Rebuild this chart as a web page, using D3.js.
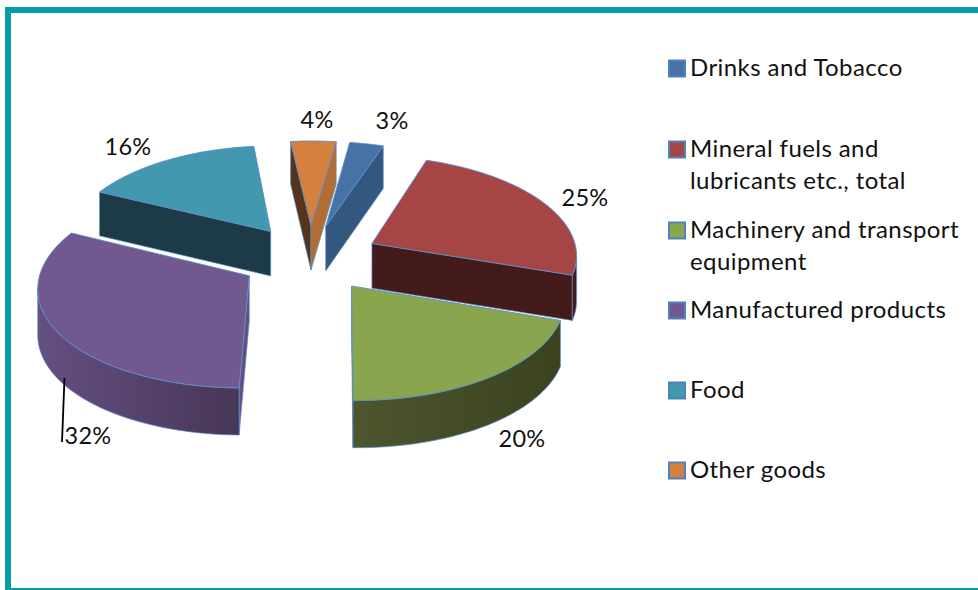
<!DOCTYPE html>
<html><head><meta charset="utf-8">
<script src="https://cdnjs.cloudflare.com/ajax/libs/d3/7.8.5/d3.min.js"></script>
<style>html,body{margin:0;padding:0;background:#fff}svg{display:block}text{font-family:Lato,"Open Sans",sans-serif;fill:#111}</style>
</head><body><svg id="c" width="978" height="590"></svg>
<script>
const categories=["Drinks and Tobacco","Mineral fuels and\nlubricants etc., total","Machinery and transport\nequipment","Manufactured products","Food","Other goods"];
const values=[3,25,20,32,16,4];
const topColors=["#4672A8","#A64644","#89A54E","#71588F","#4198AF","#D6803D"];
const wallStart=["#33587F","#431B1B","#4E5630","#654F81","#1C3B47","#55341A"];
const wallEnd=["#33587F","#431B1B","#3A421E","#453555","#1C3B47","#B26D33"];
const paintOrder=[5,0,4,1,3,2];
const labelAnchors=[[392,129],[585,206],[522,447],[88,444],[128,155],[317,128]];
const legendBaselines=[76,157,238,318,398,478];

const svg=d3.select("#c");
const frame="#039DA9";
svg.append("rect").attr("x",5).attr("y",7).attr("width",1000).attr("height",6).attr("fill",frame);
svg.append("rect").attr("x",5).attr("y",7).attr("width",6).attr("height",590).attr("fill",frame);
svg.append("rect").attr("x",5).attr("y",588).attr("width",1000).attr("height",4).attr("fill",frame);

const defs=svg.append("defs");
const rot=8*Math.PI/180;
const arcs=d3.pie().sort(null).value(d=>d).startAngle(rot).endAngle(2*Math.PI+rot)(values);

const cx=310,cy=258,A=206,B=98.2,py=0.093,px=0.1,explode=0.34,depth=45;
const sx=d3.scaleLinear().domain([0,1]).range([cx,cx+A]);
const sy=d3.scaleLinear().domain([0,1]).range([cy,cy+B]);
function project(a,b){const p=[sx(a/(1-px*b)),sy(b/(1-py*b))];p.h=depth*(1+0.04*b);return p;}
const line=d3.line();

arcs.forEach((d,i)=>{
  const mid=(d.startAngle+d.endAngle)/2;
  const ox=explode*Math.sin(mid),oy=-explode*Math.cos(mid);
  const n=Math.max(4,Math.round((d.endAngle-d.startAngle)/0.02));
  const pts=[project(ox,oy)];
  d3.range(n+1).forEach(k=>{const t=d.startAngle+(d.endAngle-d.startAngle)*k/n;
    pts.push(project(ox+Math.sin(t),oy-Math.cos(t)));});
  d.pts=pts;
  const g=defs.append("linearGradient").attr("id","w"+i).attr("gradientUnits","userSpaceOnUse");
  const xs=pts.map(p=>p[0]);
  g.attr("x1",d3.min(xs)).attr("x2",d3.max(xs)).attr("y1",0).attr("y2",0);
  g.append("stop").attr("offset",0).attr("stop-color",wallStart[i]);
  g.append("stop").attr("offset",1).attr("stop-color",wallEnd[i]);
});

const edge="#5B8DC8";
paintOrder.forEach(i=>{
  const d=arcs[i],pts=d.pts,g=svg.append("g");
  const m=pts.length;
  const quad=(list,fill)=>{const low=list.map(p=>[p[0],p[1]+p.h]).reverse();
    g.append("path").attr("d",line(list.concat(low))+"Z").attr("fill",fill).attr("stroke",edge).attr("stroke-width",0.7).attr("stroke-linejoin","round");};
  if(pts[1][0]<pts[0][0]) quad([pts[0],pts[1]],wallStart[i]);
  if(pts[0][0]<pts[m-1][0]) quad([pts[m-1],pts[0]],wallEnd[i]);
  let run=[];
  const flush=()=>{if(run.length>1) quad(run,"url(#w"+i+")");run=[];};
  for(let k=1;k<m-1;k++){
    if(pts[k+1][0]<pts[k][0]){if(!run.length)run.push(pts[k]);run.push(pts[k+1]);}
    else flush();
  }
  flush();
  g.append("path").attr("d",line(pts)+"Z").attr("fill",topColors[i]).attr("stroke",edge).attr("stroke-width",0.9).attr("stroke-linejoin","round");
});

svg.append("line").attr("x1",64.5).attr("y1",378).attr("x2",62).attr("y2",442).attr("stroke","#000").attr("stroke-width",1.8);

const total=d3.sum(values);
svg.selectAll("text.pct").data(values).join("text").attr("class","pct")
  .attr("x",(d,i)=>labelAnchors[i][0]).attr("y",(d,i)=>labelAnchors[i][1])
  .attr("text-anchor","middle").attr("font-size",23.5).attr("letter-spacing",0.3)
  .text(d=>d3.format(".0%")(d/total));

const lg=svg.selectAll("g.lg").data(categories).join("g").attr("class","lg");
lg.append("rect").attr("x",669).attr("y",(d,i)=>legendBaselines[i]-15.5).attr("width",16).attr("height",16)
  .attr("fill",(d,i)=>topColors[i]).attr("stroke","#4F81BD").attr("stroke-width",2);
lg.each(function(d,i){
  d3.select(this).selectAll("text").data(d.split("\n")).join("text")
   .attr("x",690).attr("y",(t,k)=>legendBaselines[i]+k*32)
   .attr("font-size",24).attr("letter-spacing",0.42).text(t=>t);
});
</script></body></html>
